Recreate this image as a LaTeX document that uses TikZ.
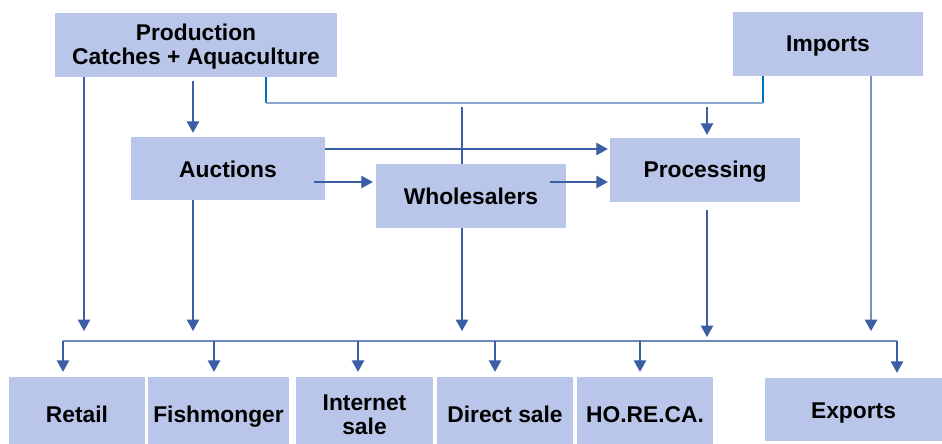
\documentclass[tikz,border=0pt]{standalone}
\usepackage{fontspec}
\setmainfont{Liberation Sans}
\usetikzlibrary{arrows.meta,calc}
\definecolor{boxfill}{RGB}{185,198,233}
\definecolor{lnc}{RGB}{58,95,165}
\definecolor{lightln}{RGB}{143,166,208}
\definecolor{stubc}{RGB}{0,112,192}
% #1: baseline offset of the first line below the node centre
\newcommand\bl[2]{\raisebox{0pt}[\dimexpr 10pt+2\dimexpr #1\relax\relax][10pt]{\begin{tabular}[t]{@{}c@{}}#2\end{tabular}}}
\tikzset{
  box/.style={fill=boxfill,draw=none,inner sep=0pt,
    font=\fontsize{22.8}{24}\selectfont\bfseries},
  ln/.style={draw=lnc,line width=1.3pt},
  tip/.style={-{Triangle[width=12.5pt,length=11.5pt,color=lnc]}},
  arr/.style={ln,tip},
  lightline/.style={draw=lightln,line width=1.6pt},
  stubline/.style={draw=stubc,line width=1.6pt},
}
\begin{document}
\begin{tikzpicture}[x=1pt,y=-1pt]
\useasboundingbox[fill=white] (0,0) rectangle (942,444);
% top row
\node[box,minimum width=282pt,minimum height=64pt] (prod) at (196,45) {\bl{-4pt}{Production\\Catches + Aquaculture}};
\node[box,minimum width=190pt,minimum height=64pt] (imp) at (828,44) {\bl{8pt}{Imports}};
% middle
\node[box,minimum width=194pt,minimum height=63pt] (auc) at (228,168.5) {\bl{8.5pt}{Auctions}};
\node[box,minimum width=190pt,minimum height=64pt] (whs) at (471,196) {\bl{8pt}{Wholesalers}};
\node[box,minimum width=190pt,minimum height=64pt] (proc) at (705,170) {\bl{7pt}{Processing}};
% bottom
\node[box,minimum width=136pt,minimum height=67pt] (ret) at (77,410.5) {\bl{11.5pt}{Retail}};
\node[box,minimum width=141pt,minimum height=67pt] (fish) at (218.5,410.5) {\bl{11.5pt}{Fishmonger}};
\node[box,minimum width=137pt,minimum height=67pt] (inet) at (364.5,410.5) {\bl{-0.5pt}{Internet\\sale}};
\node[box,minimum width=136pt,minimum height=67pt] (dir) at (505,410.5) {\bl{11.5pt}{Direct sale}};
\node[box,minimum width=136pt,minimum height=67pt] (hor) at (645,410.5) {\bl{11.5pt}{HO.RE.CA.}};
\node[box,minimum width=177pt,minimum height=63pt] (exp) at (853.5,409.5) {\bl{8.5pt}{Exports}};
% helper coordinates
\coordinate (hub) at (0,103);
\coordinate (arrT) at (0,331);
\coordinate (arrT2) at (0,337);
\coordinate (bus) at (0,341);
% connector production - imports
\draw[stubline] ([xshift=70pt]prod.south) -- ([xshift=70pt]prod.south |- hub);
\draw[stubline] ([xshift=-65pt]imp.south) -- ([xshift=-65pt]imp.south |- hub);
\draw[lightline] ([xshift=70pt]prod.south |- hub) -- ([xshift=-65pt]imp.south |- hub);
% arrows
\draw[arr] ([xshift=-112pt]prod.south) -- ([xshift=-112pt]prod.south |- arrT);
\draw[arr,shorten <=4pt,shorten >=4pt] ([xshift=-3pt]prod.south) -- ([xshift=-3pt]prod.south |- auc.north);
\draw[ln,shorten <=4pt] ([xshift=-9pt]whs.north |- hub) -- ([xshift=-9pt]whs.north);
\draw[arr] ([xshift=-9pt]whs.south) -- ([xshift=-9pt]whs.south |- arrT);
\draw[arr,shorten <=4pt,shorten >=3pt] ([xshift=2pt]proc.north |- hub) -- ([xshift=2pt]proc.north);
\draw[arr,shorten >=2pt] ([yshift=19.5pt]auc.east) -- ([yshift=19.5pt]auc.east -| proc.west);
\draw[arr,shorten >=3pt] ([xshift=-11pt,yshift=-13.5pt]auc.east) -- ([yshift=-13.5pt]auc.east -| whs.west);
\draw[arr,shorten >=2pt] ([xshift=-16pt,yshift=14pt]whs.east) -- ([yshift=14pt]whs.east -| proc.west);
\draw[arr] ([xshift=-35pt]auc.south) -- ([xshift=-35pt]auc.south |- arrT);
\draw[arr,shorten <=8pt] ([xshift=2pt]proc.south) -- ([xshift=2pt]proc.south |- arrT2);
\draw[lightline,tip,draw=lightln!70!lnc] ([xshift=43pt]imp.south) -- ([xshift=43pt]imp.south |- arrT);
% bus
\draw[ln,draw=lightln!60!lnc] ([xshift=-14pt]ret.north |- bus) -- ([xshift=43.5pt]exp.north |- bus);
\draw[arr,shorten >=5pt] ([xshift=-14pt]ret.north |- bus) -- ([xshift=-14pt]ret.north);
\draw[arr,shorten >=5pt] ([xshift=-4.5pt]fish.north |- bus) -- ([xshift=-4.5pt]fish.north);
\draw[arr,shorten >=5pt] ([xshift=-6.5pt]inet.north |- bus) -- ([xshift=-6.5pt]inet.north);
\draw[arr,shorten >=5pt] ([xshift=-10pt]dir.north |- bus) -- ([xshift=-10pt]dir.north);
\draw[arr,shorten >=5pt] ([xshift=-5pt]hor.north |- bus) -- ([xshift=-5pt]hor.north);
\draw[arr,shorten >=5pt] ([xshift=43.5pt]exp.north |- bus) -- ([xshift=43.5pt]exp.north);
\end{tikzpicture}
\end{document}
